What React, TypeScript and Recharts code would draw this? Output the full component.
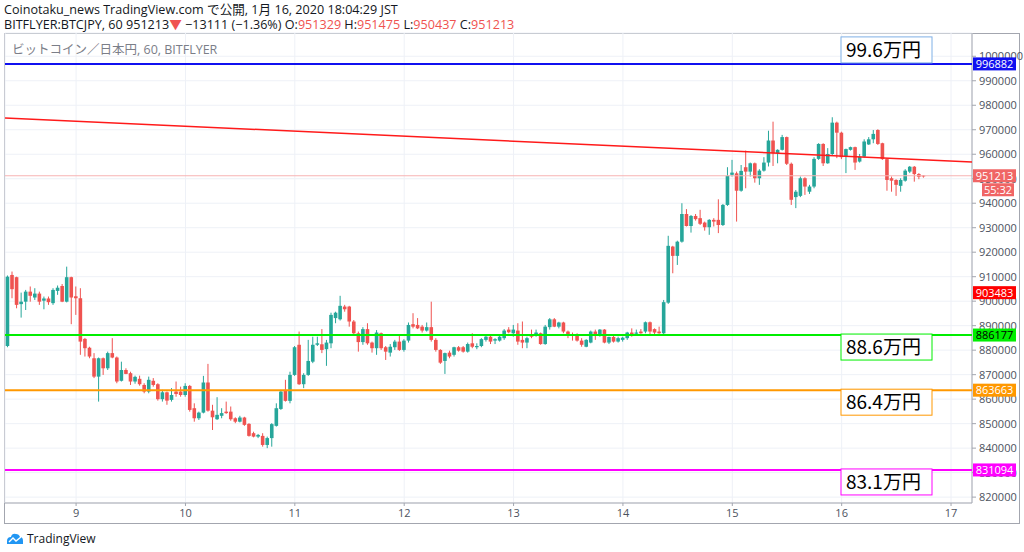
import React from "react";
import { ComposedChart, Bar, XAxis, YAxis, CartesianGrid, ReferenceLine } from "recharts";

// BTC/JPY hourly candles, Jan 8 09:00 -> Jan 16 18:00 (JST)
const OPEN = [
  881700, 910700, 909800, 898800, 899800, 903900, 901500, 903100, 900200, 901100, 899200, 904200, 906200, 899800, 909800, 902000,
  901200, 884600, 881000, 876700, 869200, 876700, 872600, 878800, 877000, 867500, 871900, 870600, 867200, 868300, 865800, 863100,
  867500, 866100, 860000, 862800, 859700, 863100, 863100, 861700, 865400, 856300, 852200, 854500, 866800, 855300, 851800, 853200,
  854900, 854900, 852200, 850800, 852500, 849900, 846100, 844700, 845000, 841300, 844100, 849100, 856000, 863800, 859300, 869900,
  882200, 866100, 869900, 875300, 882200, 882400, 880400, 882800, 893100, 892600, 897800, 897800, 891700, 886900, 883300, 888600,
  883100, 880800, 886900, 881200, 879000, 881200, 883500, 880100, 883900, 890600, 890300, 889600, 888000, 889400, 884200, 880100,
  875600, 879000, 878100, 881200, 881200, 879400, 882800, 881200, 881700, 884200, 885500, 883900, 883900, 884900, 888400, 886900,
  888000, 884200, 883100, 886200, 886200, 886900, 882500, 889400, 892600, 889600, 891300, 887600, 886500, 885800, 883900, 881400,
  883100, 887600, 886200, 888400, 883100, 885400, 883500, 884200, 884900, 887200, 886700, 887600, 887600, 891400, 888600, 887600,
  886900, 899400, 922300, 918500, 924300, 935600, 930700, 934800, 933900, 932100, 930200, 933200, 933200, 931100, 939300, 951600,
  952200, 945100, 954700, 952900, 956300, 950200, 953300, 956600, 965600, 960400, 961800, 967000, 956100, 942500, 943000, 950200,
  944700, 946800, 958100, 964200, 956300, 960100, 972900, 968800, 959300, 961800, 962900, 957000, 959000, 964000, 966100, 969900,
  964500, 958000, 950200, 949500, 947100, 949200, 952900, 954900, 951900, 951329,
];
const HIGH = [
  910500, 912100, 910000, 903500, 904600, 906000, 905300, 903900, 901900, 901900, 905300, 906400, 907000, 914100, 910000, 906000,
  905300, 885000, 881400, 878800, 877000, 877000, 879400, 884900, 877400, 875300, 872600, 871200, 869600, 869600, 866500, 869200,
  868600, 866500, 863800, 863100, 864500, 867200, 865100, 866500, 865800, 858300, 854900, 869500, 874400, 857700, 860800, 856300,
  859000, 857000, 852600, 853200, 852800, 850200, 846700, 845800, 846100, 844700, 850200, 858300, 863800, 867900, 871200, 881700,
  887600, 870600, 884200, 885500, 885500, 888600, 884200, 895300, 895700, 902200, 898500, 898100, 892300, 887600, 889400, 891000,
  883500, 888200, 887200, 881700, 882500, 884200, 886200, 884500, 891300, 895100, 893100, 890300, 891300, 899800, 884900, 880400,
  879000, 879800, 881400, 881700, 881700, 883100, 886900, 882800, 884900, 885800, 885800, 884900, 886200, 888600, 889400, 890300,
  891000, 891700, 885500, 888400, 888400, 887200, 890300, 893100, 893100, 891600, 891600, 888000, 887200, 886900, 884900, 884500,
  888000, 888400, 888600, 888600, 885500, 886200, 885500, 885500, 887500, 888900, 888400, 888600, 891700, 891700, 888900, 889600,
  900500, 926700, 922600, 924700, 940000, 937600, 935200, 935600, 937300, 932500, 933500, 933900, 941600, 939700, 954700, 957700,
  952900, 955600, 961500, 956600, 956600, 953900, 958800, 969600, 973300, 962000, 967900, 967200, 956600, 945400, 950900, 950600,
  947500, 958800, 964500, 964500, 962500, 975100, 973300, 969200, 962300, 963100, 963100, 960100, 966100, 967000, 969900, 970200,
  964700, 958400, 950900, 949800, 950200, 953900, 955200, 955200, 952300, 951475,
];
const LOW = [
  881200, 901200, 897100, 893300, 896400, 899800, 900500, 898500, 896700, 898500, 898500, 902600, 899600, 899500, 890600, 894400,
  878100, 877400, 876700, 868600, 859000, 869900, 871900, 876700, 866500, 867200, 870200, 865800, 866300, 865500, 862400, 862400,
  865100, 859400, 859000, 857700, 859000, 861000, 861000, 861000, 854900, 850800, 851500, 854200, 854900, 847400, 851500, 852200,
  854000, 851200, 850200, 850500, 849100, 844700, 844400, 844100, 840600, 840000, 840600, 848800, 855600, 859000, 858300, 869500,
  865800, 864500, 869500, 874700, 881700, 878800, 873600, 880800, 891000, 892100, 895700, 889600, 886200, 879400, 882200, 882200,
  879000, 878100, 880100, 876000, 877400, 880100, 879700, 879400, 883100, 888900, 888600, 887200, 887600, 883500, 879400, 874400,
  870300, 876700, 877400, 879400, 879000, 879000, 880800, 880400, 881200, 883500, 882500, 882500, 883500, 884200, 886900, 885500,
  882200, 880800, 880800, 884900, 885500, 882200, 882200, 888400, 889400, 888900, 886900, 884900, 883900, 883500, 881400, 881200,
  882800, 884200, 885500, 882800, 882500, 883100, 883100, 883500, 884200, 885500, 886200, 886700, 886900, 886200, 886200, 886700,
  886200, 898900, 911400, 914800, 923900, 930500, 928000, 932900, 931100, 928800, 927100, 930500, 927800, 930700, 938900, 950900,
  932500, 944700, 946100, 950900, 948400, 947500, 952900, 955000, 955200, 956300, 961500, 955600, 939300, 938000, 942500, 943400,
  943800, 946100, 957700, 955200, 956100, 959700, 958400, 958000, 952300, 961500, 953600, 956600, 958600, 963800, 964500, 963800,
  957700, 945100, 944700, 943000, 944700, 948800, 952300, 948800, 949800, 950437,
];
const CLOSE = [
  910000, 904900, 898500, 899800, 903900, 902200, 903100, 899800, 901100, 899600, 904600, 905500, 899800, 909800, 901500, 901200,
  883500, 880800, 877400, 869200, 876700, 872600, 878800, 877000, 867200, 871900, 870300, 867200, 869100, 866100, 863100, 867900,
  865800, 860000, 862800, 859400, 861700, 862100, 861700, 865400, 855600, 852200, 854500, 866800, 855300, 852600, 853600, 854300,
  854300, 851800, 850800, 852500, 849500, 845000, 844700, 845400, 841300, 844100, 849800, 856300, 863100, 859300, 869900, 881200,
  866100, 869900, 875600, 882200, 882800, 880100, 883100, 894400, 895300, 898100, 896700, 891700, 886900, 883300, 888600, 882800,
  880800, 887200, 880800, 879400, 881400, 883500, 880100, 883900, 890300, 889600, 888900, 888000, 889400, 884200, 880100, 874900,
  878800, 877400, 881200, 879800, 879400, 882500, 881400, 881700, 884500, 885500, 883500, 884500, 885500, 888000, 887300, 888400,
  883500, 883100, 884900, 885500, 887200, 882500, 889600, 892600, 889600, 891300, 887600, 886200, 885800, 883900, 882200, 884200,
  887600, 886200, 888400, 883100, 885400, 883500, 884900, 885100, 887200, 886200, 887200, 886900, 891400, 887600, 887200, 886900,
  899600, 922600, 918500, 924300, 935600, 930700, 934800, 933500, 931600, 930200, 933200, 932500, 931100, 939300, 951200, 952500,
  945100, 953200, 952900, 956300, 950200, 953300, 956600, 965600, 960400, 961800, 967000, 956100, 941400, 944700, 950200, 946800,
  946800, 958100, 964200, 956300, 960100, 972900, 968800, 958800, 962100, 962900, 956600, 959000, 965200, 966100, 968300, 964200,
  958000, 949500, 949200, 947500, 949500, 953300, 954900, 951900, 950800, 951213,
];

const DAY_TICKS = [16, 40, 64, 88, 112, 136, 160, 184, 208];
const DAY_LABELS = ["9", "10", "11", "12", "13", "14", "15", "16", "17"];
const PRICE_TICKS = [
  820000, 830000, 840000, 850000, 860000, 870000, 880000, 890000, 900000, 910000,
  920000, 930000, 940000, 950000, 960000, 970000, 980000, 990000, 1000000,
];

// horizontal levels drawn on the chart with their notes
const LEVEL_VALUES = [996882, 886177, 863663, 831094];
const LEVEL_COLORS = ["#1010f0", "#00ee00", "#ff9800", "#ff00ff"];
const LEVEL_TAG_TEXT = ["#ffffff", "#000000", "#ffffff", "#ffffff"];
const LEVEL_NOTES = ["99.6万円", "88.6万円", "86.4万円", "83.1万円"];
const LEVEL_NOTE_BORDERS = ["#7fb0e6", "#00ee00", "#ff9800", "#ff00ff"];

const TREND_START = { x: 0.4, y: 974800 };
const TREND_END = { x: 212.6, y: 956800 };
const LAST_PRICE = 951213;
const COUNTDOWN = "55:32";
const MARK_PRICE = 903483;

const X_DOMAIN = [0.4, 212.6];
const Y_DOMAIN = [817600, 1009500];

const UP = "#26a69a";
const DOWN = "#ef5350";
const FONT = "'Open Sans', 'Noto Sans CJK JP', sans-serif";

const data = OPEN.map((o, i) => ({
  t: i + 1,
  open: o,
  high: HIGH[i],
  low: LOW[i],
  close: CLOSE[i],
  range: [LOW[i], HIGH[i]],
}));

function Candle(props: any) {
  const { x, y, width, height, payload } = props;
  if (!payload || x == null) return null;
  const { open, close, high, low } = payload;
  const top = Math.min(y, y + height);
  const h = Math.abs(height);
  const k = high === low ? 0 : h / (high - low);
  const cx = x + width / 2;
  const color = close >= open ? UP : DOWN;
  const bodyTop = top + (high - Math.max(open, close)) * k;
  const bodyH = Math.max(1, Math.abs(open - close) * k);
  return (
    <g>
      <line x1={cx} x2={cx} y1={top} y2={top + h} stroke={color} strokeWidth={1} />
      <rect x={cx - 1.8} y={bodyTop} width={3.6} height={bodyH} fill={color} />
    </g>
  );
}

function Tag({ viewBox, text, bg, fg, dy = 0, w = 43, dx = 0 }: any) {
  if (!viewBox) return null;
  const x = viewBox.x + viewBox.width + 1 + dx;
  const y = viewBox.y + dy;
  return (
    <g>
      <rect x={x} y={y - 6.5} width={w} height={13} fill={bg} />
      <text x={x + w / 2} y={y + 4} textAnchor="middle" fontSize={11} fill={fg} fontFamily={FONT}>
        {text}
      </text>
    </g>
  );
}

function LevelLabel({ viewBox, idx }: any) {
  if (!viewBox) return null;
  const right = viewBox.x + viewBox.width;
  const y = viewBox.y;
  const above = idx === 0;
  const boxTop = above ? y - 27 : y - 1;
  return (
    <g>
      <rect x={right - 131} y={boxTop} width={91} height={26} fill="#ffffff" stroke={LEVEL_NOTE_BORDERS[idx]} strokeWidth={1} />
      <text x={right - 126} y={boxTop + 20} fontSize={19} fill="#000" fontFamily="'Noto Sans CJK JP', sans-serif">
        {LEVEL_NOTES[idx]}
      </text>
      <Tag viewBox={viewBox} text={String(LEVEL_VALUES[idx])} bg={LEVEL_COLORS[idx]} fg={LEVEL_TAG_TEXT[idx]} />
    </g>
  );
}

function PriceLabel({ viewBox }: any) {
  if (!viewBox) return null;
  return (
    <g>
      <Tag viewBox={viewBox} text={String(LAST_PRICE)} bg="#f06565" fg="#fff" />
      <Tag viewBox={viewBox} text={COUNTDOWN} bg="#f06565" fg="#fff" dy={14} w={32} dx={9} />
    </g>
  );
}

function Logo() {
  return (
    <div style={{ position: "absolute", left: 6, top: 530, display: "flex", alignItems: "center", gap: 3 }}>
      <svg width={18} height={12} viewBox="0 0 18 12">
        <path d="M1 11 L1 8 Q1 4 5 4 Q6 0 10 1 Q13 1 14 4 Q17 4 17 8 L17 11 Z" fill="#2196f3" />
        <path d="M3 9 L7 5 L10 8 L15 4" stroke="#fff" strokeWidth={1.4} fill="none" />
      </svg>
      <span style={{ fontSize: 12, color: "#131722", fontFamily: FONT }}>TradingView</span>
    </div>
  );
}

export default function App() {
  const red = { color: "#ef5350" };
  const layer: React.CSSProperties = { position: "absolute", left: 0, top: 0 };
  return (
    <div style={{ position: "absolute", left: 0, top: 0, width: 1024, height: 552, background: "#fff", overflow: "hidden", fontFamily: FONT }}>
      <div style={{ position: "absolute", left: 4, top: 2, fontSize: 12.6, color: "#131722", whiteSpace: "nowrap", lineHeight: "15px" }}>
        Coinotaku_news TradingView.com で公開, 1月 16, 2020 18:04:29 JST
      </div>
      <div style={{ position: "absolute", left: 4, top: 17, fontSize: 12.6, color: "#131722", whiteSpace: "nowrap", lineHeight: "15px" }}>
        BITFLYER:BTCJPY, 60 951213<span style={red}>▼</span> −13111 (−1.36%) O:<span style={red}>951329</span> H:<span style={red}>951475</span> L:<span style={red}>950437</span> C:<span style={red}>951213</span>
      </div>
      <div style={{ position: "absolute", left: 4, top: 33, width: 1014, height: 489, border: "1px solid #a3a6af", boxSizing: "content-box" }} />

      {/* candles, grid and axes */}
      <div style={layer}>
        <ComposedChart width={1024} height={552} data={data} margin={{ top: 33, right: 5, bottom: 29, left: 5 }}>
          <CartesianGrid stroke="#eef1f7" />
          <XAxis
            type="number"
            dataKey="t"
            domain={X_DOMAIN}
            allowDataOverflow
            ticks={DAY_TICKS}
            interval={0}
            tickFormatter={(v: number) => DAY_LABELS[DAY_TICKS.indexOf(v)] ?? ""}
            height={20}
            tickSize={3}
            tickMargin={3}
            stroke="#a3a6af"
            tick={{ fontSize: 11, fill: "#4c525e", fontFamily: FONT }}
          />
          <YAxis
            orientation="right"
            domain={Y_DOMAIN}
            allowDataOverflow
            ticks={PRICE_TICKS}
            interval={0}
            width={47}
            tickSize={4}
            tickMargin={3}
            stroke="#a3a6af"
            tick={{ fontSize: 11, fill: "#4c525e", fontFamily: FONT }}
          />
          <ReferenceLine y={LAST_PRICE} stroke="#f7b3b3" strokeWidth={1} />
          <Bar dataKey="range" barSize={4} shape={<Candle />} isAnimationActive={false} />
        </ComposedChart>
      </div>

      {/* drawn levels, notes and price tags on top of the axis */}
      <div style={layer}>
        <ComposedChart width={1024} height={552} data={data} margin={{ top: 33, right: 52, bottom: 49, left: 5 }}>
          <XAxis type="number" dataKey="t" domain={X_DOMAIN} allowDataOverflow hide />
          <YAxis domain={Y_DOMAIN} allowDataOverflow hide />
          <ReferenceLine
            segment={[TREND_START, TREND_END]}
            stroke="#ff1a1a"
            strokeWidth={1.5}
            ifOverflow="hidden"
          />
          <ReferenceLine y={LAST_PRICE} stroke="none" label={<PriceLabel />} />
          <ReferenceLine
            y={MARK_PRICE}
            stroke="none"
            label={<Tag text={String(MARK_PRICE)} bg="#ff0000" fg="#fff" />}
          />
          {LEVEL_VALUES.map((v, i) => (
            <ReferenceLine
              key={v}
              y={v}
              stroke={LEVEL_COLORS[i]}
              strokeWidth={2}
              label={<LevelLabel idx={i} />}
            />
          ))}
        </ComposedChart>
      </div>

      <div style={{ position: "absolute", left: 12, top: 39, fontSize: 12.5, color: "#7b7e88", whiteSpace: "nowrap" }}>
        ビットコイン／日本円, 60, BITFLYER
      </div>
      <Logo />
    </div>
  );
}
